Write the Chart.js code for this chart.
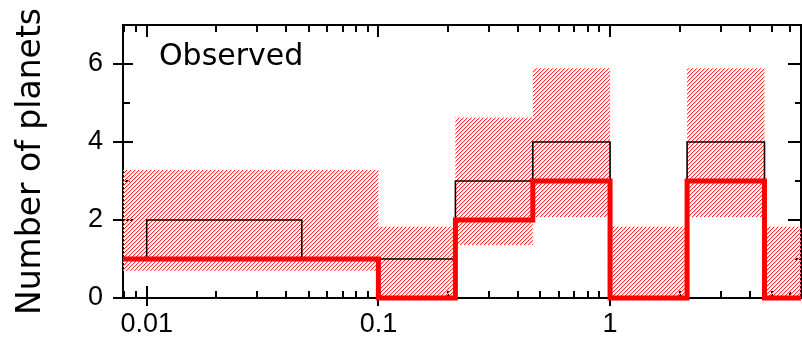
<!DOCTYPE html>
<html lang="en">
<head>
  <meta charset="UTF-8">
  <style>
    body { margin: 0; background: #fff; }
  </style>
</head>
<body>
  <canvas id="myChart" width="802" height="337"></canvas>

  <script src="https://cdn.jsdelivr.net/npm/chart.js"></script>
  <script>
    // model bins (log spaced) and predicted counts
    const modelEdges = [0.0079, 0.1, 0.215, 0.464, 1, 2.15, 4.64, 6.67];
    const modelCounts = [1, 0, 2, 3, 0, 3, 0];
    // 1-sigma range around the model counts (hatched)
    const bandUpper = [3.28, 1.83, 4.63, 5.89, 1.83, 5.89, 1.83];
    const bandLower = [0.70, 0, 1.36, 2.08, 0, 2.08, 0];
    // observed histogram
    const obsEdges = [0.0079, 0.01, 0.0467, 0.215, 0.464, 1, 2.15, 4.64, 6.67];
    const obsCounts = [1, 2, 1, 3, 4, 0, 4, 0];
    // axis labels
    const xTickLabels = [0.01, 0.1, 1];
    const yTickLabels = [0, 2, 4, 6];

    // turn bins into points for a stepped line
    function steps(edges, vals) {
      const pts = vals.map((v, i) => ({ x: edges[i], y: v }));
      pts.push({ x: edges[edges.length - 1], y: vals[vals.length - 1] });
      return pts;
    }

    const ctx = document.getElementById('myChart').getContext('2d');

    // red diagonal hatching
    function makeHatch() {
      const c = document.createElement('canvas');
      c.width = 4; c.height = 4;
      const g = c.getContext('2d');
      const img = g.createImageData(4, 4);
      for (let j = 0; j < 4; j++) {
        for (let i = 0; i < 4; i++) {
          const k = (i + j) % 4;
          const idx = (j * 4 + i) * 4;
          if (k === 0) img.data.set([255, 45, 45, 255], idx);
          else if (k === 1) img.data.set([255, 205, 205, 255], idx);
        }
      }
      g.putImageData(img, 0, 0);
      return ctx.createPattern(c, 'repeat');
    }

    // box + tick marks on all four sides, and the "Observed" label
    const framePlugin = {
      id: 'frame',
      beforeDatasetsDraw(chart) {
        const { ctx, chartArea: a, scales: { x, y } } = chart;
        ctx.save();
        ctx.strokeStyle = '#000';
        ctx.lineWidth = 2;
        ctx.strokeRect(a.left, a.top, a.right - a.left, a.bottom - a.top);
        ctx.beginPath();
        for (let d = -3; d <= 1; d++) {
          for (let m = 1; m <= 9; m++) {
            const v = m * Math.pow(10, d);
            if (v < x.min || v > x.max) continue;
            const px = Math.round(x.getPixelForValue(v));
            const major = m === 1;
            const len = major ? 12 : 7;
            ctx.moveTo(px, a.bottom + (major ? 8 : 0));
            ctx.lineTo(px, a.bottom - len);
            ctx.moveTo(px, a.top);
            ctx.lineTo(px, a.top + len);
          }
        }
        for (let v = 0; v <= 7; v++) {
          const py = Math.round(y.getPixelForValue(v));
          const major = v % 2 === 0;
          ctx.moveTo(a.left - (major ? 10 : 0), py);
          ctx.lineTo(a.left + (major ? 10 : 7), py);
          ctx.moveTo(a.right, py);
          ctx.lineTo(a.right - (major ? 13 : 6), py);
        }
        ctx.stroke();
        ctx.restore();
      },
      afterDatasetsDraw(chart) {
        const { ctx, chartArea: a } = chart;
        ctx.save();
        ctx.fillStyle = '#000';
        ctx.font = '30px "DejaVu Sans", sans-serif';
        ctx.textBaseline = 'alphabetic';
        ctx.fillText('Observed', a.left + 36, a.top + 40);
        ctx.restore();
      }
    };

    const hatch = makeHatch();

    const myChart = new Chart(ctx, {
      type: 'line',
      data: {
        datasets: [
          {
            label: 'Model',
            data: steps(modelEdges, modelCounts),
            stepped: 'before',
            borderColor: '#ff0000',
            borderWidth: 5,
            borderJoinStyle: 'miter',
            pointRadius: 0,
            fill: false,
            clip: false,
            order: 0
          },
          {
            label: 'Observed',
            data: steps(obsEdges, obsCounts),
            stepped: 'before',
            borderColor: '#000000',
            borderWidth: 1.6,
            borderJoinStyle: 'miter',
            pointRadius: 0,
            fill: false,
            clip: false,
            order: 1
          },
          {
            label: 'Upper',
            data: steps(modelEdges, bandUpper),
            stepped: 'before',
            borderWidth: 0,
            borderColor: 'rgba(0,0,0,0)',
            backgroundColor: hatch,
            pointRadius: 0,
            fill: '+1',
            order: 2
          },
          {
            label: 'Lower',
            data: steps(modelEdges, bandLower),
            stepped: 'before',
            borderWidth: 0,
            borderColor: 'rgba(0,0,0,0)',
            pointRadius: 0,
            fill: false,
            order: 3
          }
        ]
      },
      options: {
        responsive: false,
        animation: false,
        layout: {
          padding: { left: 0, right: 1, top: 25, bottom: 0 }
        },
        scales: {
          x: {
            type: 'logarithmic',
            min: 0.0079,
            max: 6.67,
            afterFit(s) { s.height = 39; s.paddingLeft = 0; s.paddingRight = 0; },
            afterBuildTicks(s) { s.ticks = xTickLabels.map(v => ({ value: v })); },
            grid: { display: false, drawTicks: false },
            border: { display: false },
            ticks: {
              color: '#000',
              autoSkip: false,
              maxRotation: 0,
              padding: 10,
              font: { family: '"Liberation Sans", Arial, sans-serif', size: 27 },
              callback: v => String(v)
            }
          },
          y: {
            min: 0,
            max: 7,
            afterFit(s) { s.width = 123; s.paddingTop = 0; s.paddingBottom = 0; },
            afterBuildTicks(s) { s.ticks = yTickLabels.map(v => ({ value: v })); },
            grid: { display: false, drawTicks: false },
            border: { display: false },
            ticks: {
              color: '#000',
              padding: 20,
              font: { family: '"Liberation Sans", Arial, sans-serif', size: 27 }
            },
            title: {
              display: true,
              text: 'Number of planets',
              color: '#000',
              padding: { top: 12, bottom: 0 },
              font: { family: '"DejaVu Sans", sans-serif', size: 33 }
            }
          }
        },
        plugins: {
          legend: { display: false },
          tooltip: { enabled: false }
        }
      },
      plugins: [framePlugin]
    });
  </script>
</body>
</html>
